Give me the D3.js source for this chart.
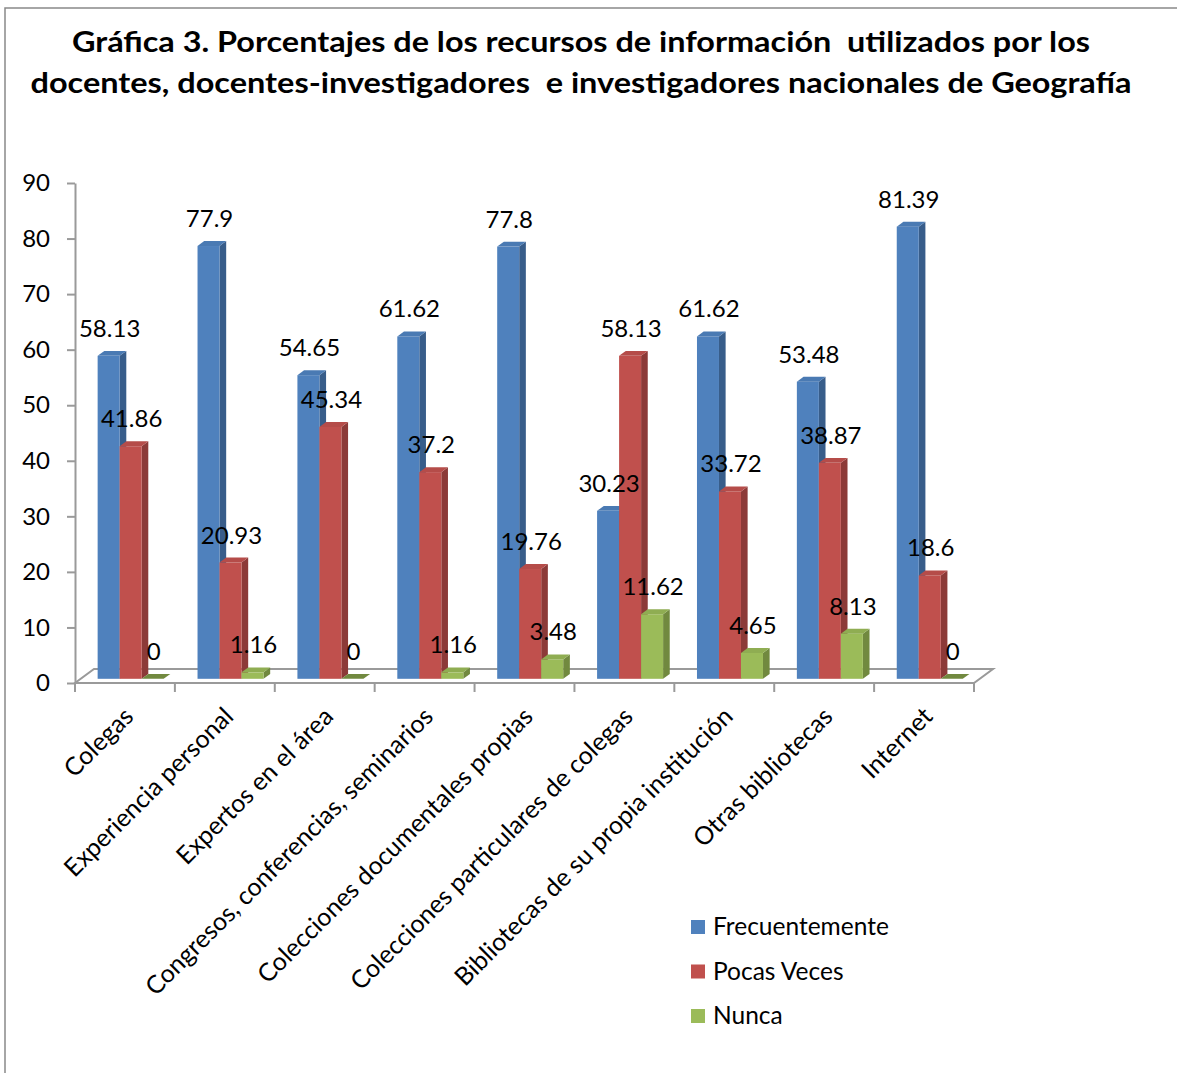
<!DOCTYPE html>
<html>
<head>
<meta charset="utf-8">
<script src="https://cdn.jsdelivr.net/npm/d3@7"></script>
<style>
  body { margin: 0; background: #fff; }
  svg { display: block; font-family: Lato, "Open Sans", sans-serif; }
</style>
</head>
<body>
<div id="chart"></div>
<script>
var categories = ["Colegas", "Experiencia personal", "Expertos en el área",
    "Congresos, conferencias, seminarios", "Colecciones documentales propias",
    "Colecciones particulares de colegas", "Bibliotecas de su propia institución",
    "Otras bibliotecas", "Internet"];
var seriesNames = ["Frecuentemente", "Pocas Veces", "Nunca"];
var frecuentemente = [58.13, 77.9, 54.65, 61.62, 77.8, 30.23, 61.62, 53.48, 81.39];
var pocasVeces = [41.86, 20.93, 45.34, 37.2, 19.76, 58.13, 33.72, 38.87, 18.6];
var nunca = [0, 1.16, 0, 1.16, 3.48, 11.62, 4.65, 8.13, 0];
var yTicks = [0, 10, 20, 30, 40, 50, 60, 70, 80, 90];
var titleLines = ["Gráfica 3. Porcentajes de los recursos de información  utilizados por los",
    "docentes, docentes-investigadores  e investigadores nacionales de Geografía"];

var colors = {front: ["#4F81BD", "#C0504D", "#9BBB59"],
              side: ["#385D8A", "#8C3A38", "#71893F"],
              top: ["#4A7AB3", "#B54C49", "#8FAD52"]};

var values = [frecuentemente, pocasVeces, nunca];

var svg = d3.select("#chart").append("svg")
    .attr("width", 1177)
    .attr("height", 1073);

// outer frame
svg.append("path")
    .attr("d", "M5,1073V8H1177")
    .attr("fill", "none")
    .attr("stroke", "#898989")
    .attr("stroke-width", 1.5);

// title
svg.selectAll("text.title")
    .data(titleLines)
    .enter().append("text")
    .attr("class", "title")
    .attr("x", 581)
    .attr("y", function(d, i) { return 52 + i * 41; })
    .attr("text-anchor", "middle")
    .attr("font-size", 28)
    .attr("font-weight", "bold")
    .attr("textLength", function(d, i) { return i == 0 ? 1018 : 1101; })
    .attr("lengthAdjust", "spacingAndGlyphs")
    .attr("fill", "#000")
    .style("white-space", "pre")
    .text(function(d) { return d; });

var x0 = d3.scaleBand().domain(categories).range([75, 974]);
var x1 = d3.scaleBand().domain(seriesNames).range([0, x0.bandwidth()]).paddingOuter(0.77);
var y = d3.scaleLinear().domain([0, 90]).range([683, 183]);

// depth of the floor and of the bars inside it
var depth = [19, -14];
var f0 = 0.3, f1 = 0.65;
var dx = depth[0] * (f1 - f0), dy = depth[1] * (f1 - f0);

// floor
var x0end = x0.range()[1];
svg.append("path")
    .attr("d", "M75,683L" + x0end + ",683L" + (x0end + depth[0]) + "," + (683 + depth[1]) +
        "L" + (75 + depth[0]) + "," + (683 + depth[1]) + "Z")
    .attr("fill", "#fff")
    .attr("stroke", "#9a9a9a")
    .attr("stroke-width", 2);

// category ticks
var bounds = categories.map(function(c) { return x0(c); }).concat([x0end]);
svg.selectAll("line.ctick")
    .data(bounds)
    .enter().append("line")
    .attr("x1", function(d) { return d; })
    .attr("x2", function(d) { return d; })
    .attr("y1", 683)
    .attr("y2", 692)
    .attr("stroke", "#9a9a9a")
    .attr("stroke-width", 2);

// y axis
var yAxis = svg.append("g")
    .attr("transform", "translate(75,0)")
    .call(d3.axisLeft(y).tickValues(yTicks).tickSize(8).tickSizeOuter(0).tickPadding(17));
yAxis.select(".domain").attr("stroke", "#9a9a9a").attr("stroke-width", 2);
yAxis.selectAll(".tick line").attr("stroke", "#9a9a9a").attr("stroke-width", 2);
yAxis.selectAll(".tick text")
    .attr("font-size", 24)
    .attr("font-family", "Lato, 'Open Sans', sans-serif")
    .attr("fill", "#000");

// bars
var bars = [];
categories.forEach(function(c, i) {
    seriesNames.forEach(function(s, j) {
        bars.push({cat: c, ser: s, j: j, v: values[j][i]});
    });
});

var g = svg.append("g");
bars.forEach(function(b) {
    var x = x0(b.cat) + x1(b.ser) + depth[0] * f0;
    var w = x1.bandwidth();
    var yb = y(0) + depth[1] * f0;
    var yt = y(b.v) + depth[1] * f0;
    // side
    g.append("path")
        .attr("d", "M" + (x + w) + "," + yt + "L" + (x + w + dx) + "," + (yt + dy) +
            "L" + (x + w + dx) + "," + (yb + dy) + "L" + (x + w) + "," + yb + "Z")
        .attr("fill", colors.side[b.j]);
    // front
    g.append("rect")
        .attr("x", x)
        .attr("y", yt)
        .attr("width", w)
        .attr("height", yb - yt)
        .attr("fill", colors.front[b.j]);
    // top
    g.append("path")
        .attr("d", "M" + x + "," + yt + "L" + (x + dx) + "," + (yt + dy) +
            "L" + (x + w + dx) + "," + (yt + dy) + "L" + (x + w) + "," + yt + "Z")
        .attr("fill", b.v == 0 ? colors.side[b.j] : colors.top[b.j]);
});

// data labels
svg.selectAll("text.lbl")
    .data(bars)
    .enter().append("text")
    .attr("class", "lbl")
    .attr("x", function(d) { return x0(d.cat) + x1(d.ser) + depth[0] * f0 + x1.bandwidth() / 2 + 1; })
    .attr("y", function(d) { return y(d.v) + depth[1] * f0 - 19; })
    .attr("text-anchor", "middle")
    .attr("font-size", 24)
    .attr("fill", "#000")
    .text(function(d) { return d.v; });

// category labels
svg.selectAll("text.cat")
    .data(categories)
    .enter().append("text")
    .attr("class", "cat")
    .attr("transform", function(d) {
        return "translate(" + (x0(d) + x0.bandwidth() / 2 + 10) + ",718) rotate(-45)";
    })
    .attr("text-anchor", "end")
    .attr("font-size", 25)
    .attr("fill", "#000")
    .text(function(d) { return d; });

// legend
var legend = svg.selectAll("g.leg")
    .data(seriesNames)
    .enter().append("g")
    .attr("class", "leg")
    .attr("transform", function(d, i) { return "translate(691," + (920 + i * 44.5) + ")"; });
legend.append("rect")
    .attr("width", 14)
    .attr("height", 14)
    .attr("fill", function(d, i) { return colors.front[i]; });
legend.append("text")
    .attr("x", 22)
    .attr("y", 15)
    .attr("font-size", 24.5)
    .attr("fill", "#000")
    .text(function(d) { return d; });
</script>
</body>
</html>
